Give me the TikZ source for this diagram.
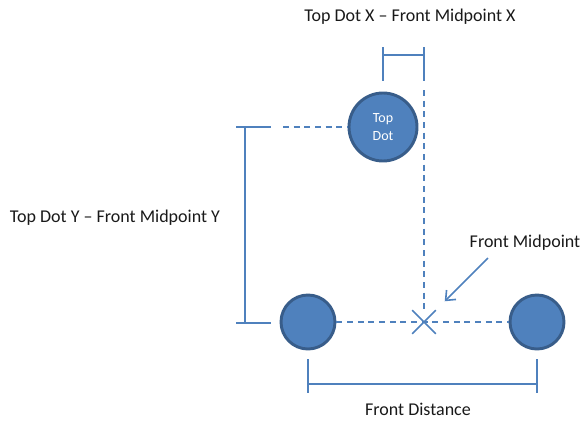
\documentclass[tikz,border=0pt]{standalone}
\usepackage{fontspec}
\setmainfont{Carlito}
\usetikzlibrary{arrows.meta,positioning,shapes.misc}
\definecolor{dotblue}{HTML}{4F81BD}
\definecolor{dotedge}{HTML}{385D8A}
\tikzset{
  dot/.style={circle, fill=dotblue, draw=dotedge, line width=2.2pt, minimum size=#1,
    inner sep=0pt, align=center, text=white, font=\fontsize{10.5}{13}\selectfont},
  dot/.default=40.5pt,
  dim/.style={draw=dotblue, line width=1.4pt},
  guide/.style={draw=dotblue, line width=1.2pt, dash pattern=on 4.5pt off 3.5pt},
  pointer/.style={-{Straight Barb[length=6pt,width=10pt]}, draw=dotblue, line width=1.2pt},
  lbl/.style={font=\fontsize{13.5}{16}\selectfont, text=black!90, inner sep=0pt},
}

\begin{document}
\begin{tikzpicture}[x=0.75pt, y=-0.75pt]
    \useasboundingbox (0,0) rectangle (583,422);

    \node[dot=51pt] (top) at (383,127) {Top\\Dot};
    \node[dot] (left) at (308,322) {};
    \node[dot] (right) at (537,322) {};
    \node[cross out, draw=dotblue, line width=1.2pt, minimum size=16.5pt, inner sep=0pt] (mid) at (424,322) {};

    \node[lbl] (xlabel) at (410,17) {Top Dot X -- Front Midpoint X};
    \node[lbl] (ylabel) at (115,218) {Top Dot Y -- Front Midpoint Y};
    \node[lbl] (midlabel) at (525,243) {Front Midpoint};
    \node[lbl] (distlabel) at (418,409) {Front Distance};

    % x offset bracket
    \coordinate (xa) at (383,47);
    \coordinate (xb) at (424,47);
    \coordinate (xaend) at (383,81);
    \coordinate (xbend) at (424,81);
    \draw[dim] (xa) -- (xaend);
    \draw[dim] (xb) -- (xbend);
    \draw[dim] ([yshift=-6pt]xa) -- ([yshift=-6pt]xb);

    % y offset bracket
    \coordinate (ya) at (236,127);
    \coordinate (yb) at (236,323);
    \coordinate (yaend) at (271,127);
    \coordinate (ybend) at (271,323);
    \draw[dim] (ya) -- (yaend);
    \draw[dim] (yb) -- (ybend);
    \draw[dim] ([xshift=7pt]ya) -- ([xshift=7pt]yb);

    % front distance bracket
    \coordinate (fa) at (308,359);
    \coordinate (fb) at (537,359);
    \coordinate (faend) at (308,393);
    \coordinate (fbend) at (537,393);
    \draw[dim] (fa) -- (faend);
    \draw[dim] (fb) -- (fbend);
    \draw[dim] ([yshift=-19pt]fa) -- ([yshift=-19pt]fb);

    % guides
    \coordinate (ystart) at (283,127);
    \coordinate (xstart) at (424,90);
    \draw[guide] (ystart) -- (top.west);
    \draw[guide] (xstart) -- (mid.north);
    \draw[guide] (left) -- (right);

    \coordinate (ptail) at (488,258);
    \draw[pointer, shorten >=22pt] (ptail) -- (mid.center);
  \end{tikzpicture}
\end{document}
